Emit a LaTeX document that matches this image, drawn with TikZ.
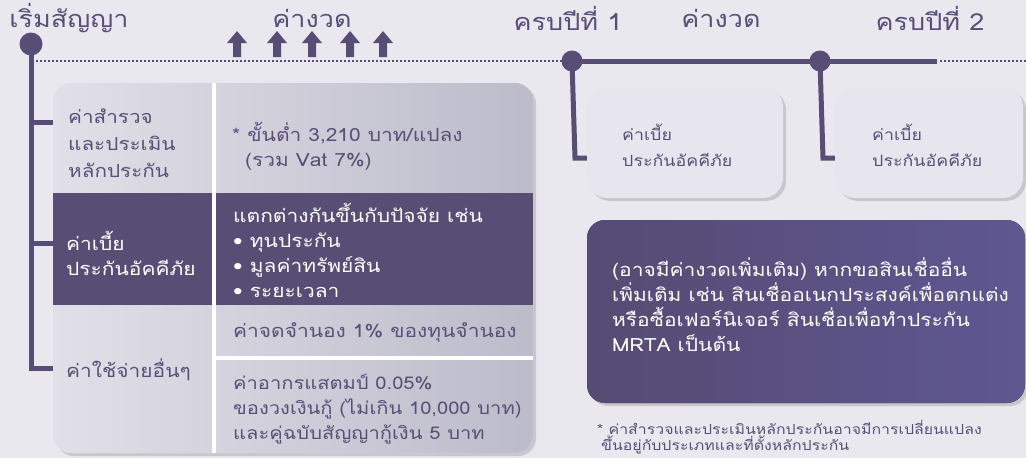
\documentclass[tikz,border=0pt]{standalone}
\usepackage{fontspec}
\setmainfont{Loma}[Script=Thai, FakeStretch=1.15]
\usetikzlibrary{shadows}
\definecolor{bg}{HTML}{E9E8EF}
\definecolor{purp}{HTML}{584E75}
\definecolor{txt}{HTML}{5A4F78}
\definecolor{cardL}{HTML}{E1E0E8}
\definecolor{cardR}{HTML}{BCBBCA}
\definecolor{soft}{HTML}{E7E6EE}
\definecolor{boxL}{HTML}{564B73}
\definecolor{boxR}{HTML}{5E5791}
\begin{document}
\begin{tikzpicture}[x=1pt,y=-1pt,
  title/.style={font=\fontsize{23.5}{28}\selectfont, text=txt, anchor=base, inner sep=0pt},
  body/.style={font=\fontsize{18.2}{25}\selectfont, text=txt, align=left, anchor=west, inner sep=0pt},
  small/.style={body, font=\fontsize{15.5}{26}\selectfont},
  wbody/.style={body, text=white},
  note/.style={font=\fontsize{13.8}{15.5}\selectfont, text=txt, align=left, anchor=west, inner sep=0pt},
  tline/.style={draw=purp, line width=5pt},
  dline/.style={draw=purp, line width=2pt, dash pattern=on 2pt off 2pt},
  dotc/.style={circle, fill=purp, inner sep=0pt},
  upar/.style={fill=purp},
  sshadow/.style={drop shadow={shadow xshift=3pt, shadow yshift=-3pt, opacity=0.25, fill=black!60}},
  softcard/.style={rounded corners=20pt, fill=soft, sshadow}]
\useasboundingbox (0,0) rectangle (1026,458);
\fill[bg] (0,0) rectangle (1026,458);

% titles
\node[title] (tstart) at (69,27) {เริ่มสัญญา};
\node[title] (tpay1) at (312,27) {ค่างวด};
\node[title] (tyr1) at (568,30) {ครบปีที่ 1};
\node[title] (tpay2) at (721,27) {ค่างวด};
\node[title] (tyr2) at (930,30) {ครบปีที่ 2};

% arrows
\foreach \ax in {237,277,312,350,383}{
  \fill[upar] (\ax,31) -- (\ax+10,43) -- (\ax+4,43) -- (\ax+4,57) -- (\ax-4,57) -- (\ax-4,43) -- (\ax-10,43) -- cycle;
}

% timeline
\coordinate (d0) at (31,44);
\coordinate (d1) at (572,61);
\coordinate (d2) at (820,61);
\coordinate (lstart) at (36,61);
\coordinate (lend) at (937,61);
\coordinate (rend) at (1026,61);
\draw[dline] (lstart) -- ([xshift=-8pt]d1);
\draw[tline] (d1) -- (lend);
\draw[dline] ([xshift=3pt]lend) -- (rend);

% left trunk
\coordinate (b1) at (55,122);
\coordinate (b2) at (55,243);
\coordinate (b3) at (55,368);
\draw[tline] (d0) -- (d0 |- b3) -- (b3);
\draw[tline] (d0 |- b1) -- (b1);
\draw[tline] (d0 |- b2) -- (b2);
\draw[tline] (d1) -- (575,158) -- (592,158);
\draw[tline] (d2) -- (823,158) -- (840,158);
\node[dotc, minimum size=23pt] (n0) at (d0) {};
\node[dotc, minimum size=21pt] (n1) at (d1) {};
\node[dotc, minimum size=21pt] (n2) at (d2) {};

% left card
\fill[cardL, rounded corners=18pt, sshadow] (53,83) rectangle (533,453);
\begin{scope}
  \clip[rounded corners=18pt] (53,83) rectangle (533,453);
  \shade[left color=cardL, right color=cardR] (53,83) rectangle (533,453);
  \fill[purp] (53,193) rectangle (533,305);
  \draw[white, line width=4pt] (214,83) -- (214,453);
  \draw[white, line width=4pt] (214,358) -- (533,358);
\end{scope}

\node[body, font=\fontsize{18}{27}\selectfont] (r1l) at (68,143) {ค่าสำรวจ\\และประเมิน\\หลักประกัน};
\node[body] (r1r) at (232,146) {* ขั้นต่ำ 3,210 บาท/แปลง\\\hspace*{13pt}(รวม Vat 7\%)};
\node[wbody] (r2l) at (66,253) {ค่าเบี้ย\\ประกันอัคคีภัย};
\node[wbody] (r2r) at (233,250) {แตกต่างกันขึ้นกับปัจจัย เช่น\\• ทุนประกัน\\• มูลค่าทรัพย์สิน\\• ระยะเวลา};
\node[body] (r3l) at (66,370) {ค่าใช้จ่ายอื่นๆ};
\node[body] (r3a) at (233,332) {ค่าจดจำนอง 1\% ของทุนจำนอง};
\node[body, font=\fontsize{17.5}{25}\selectfont] (r3b) at (233,409) {ค่าอากรแสตมป์ 0.05\%\\ของวงเงินกู้ (ไม่เกิน 10,000 บาท)\\และคู่ฉบับสัญญากู้เงิน 5 บาท};

% right cards
\path[softcard] (587,87) rectangle (783,198);
\path[softcard] (835,87) rectangle (1023,198);
\node[small] (c1) at (622,145) {ค่าเบี้ย\\ประกันอัคคีภัย};
\node[small] (c2) at (872,145) {ค่าเบี้ย\\ประกันอัคคีภัย};

% purple box
\fill[boxL, rounded corners=18pt, sshadow] (587,220) rectangle (1025,403);
\shade[left color=boxL, right color=boxR, rounded corners=18pt] (587,220) rectangle (1025,403);
\node[wbody] (pb) at (612,305) {(อาจมีค่างวดเพิ่มเติม) หากขอสินเชื่ออื่น\\เพิ่มเติม เช่น สินเชื่ออเนกประสงค์เพื่อตกแต่ง\\หรือซื้อเฟอร์นิเจอร์ สินเชื่อเพื่อทำประกัน\\MRTA เป็นต้น};

% footnote
\node[note] (fn) at (597,437) {* ค่าสำรวจและประเมินหลักประกันอาจมีการเปลี่ยนแปลง\\\hspace*{4pt}ขึ้นอยู่กับประเภทและที่ตั้งหลักประกัน};
\end{tikzpicture}
\end{document}
